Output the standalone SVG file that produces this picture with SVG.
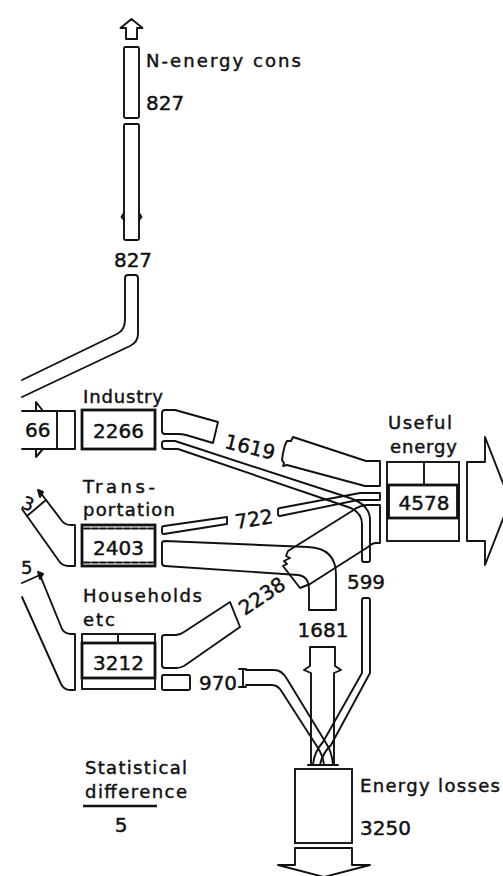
<svg xmlns="http://www.w3.org/2000/svg" width="503" height="876" viewBox="0 0 503 876">
<style>
.l{fill:none;stroke:#111;stroke-width:1.9;stroke-linejoin:round;stroke-linecap:round}
.b{fill:none;stroke:#111;stroke-width:2.8}
.m{fill:none;stroke:#111;stroke-width:1.9}
.t{font-family:"DejaVu Sans",sans-serif;font-size:18px;fill:#111;stroke:#111;stroke-width:0.45}
.n{font-size:20px}
</style>
<rect width="503" height="876" fill="#fff"/>
<g id="connectors" class="l">
  <path d="M126,39 V28 H120.5 L131.5,19 L142.5,28 H137 V39 Z"/>
  <rect x="124" y="47" width="15" height="71" rx="1.5"/>
  <rect x="124" y="124" width="15" height="116" rx="1.5"/>
  <path d="M124,213 L121.5,217 L124,220 M139,213 L141.5,217 L139,220"/>
  <path d="M22,380 L117,334 Q125,330 125,320 V278 Q125,275 128,275 H135 Q138,275 138,278 V334 Q138,342 130,346 L22,397"/>
  <path d="M22,411 H75 V449 H22 M57,411 V449"/>
  <path d="M36,411 V402 L43,411 M36,449 V457 L43,449"/>
  <path d="M40,492 L62,521 Q65,525 71,525 H75 V566 H69 Q62,566 59,561 L22,509"/>
  <path d="M27,516 L46,500"/>
  <path d="M38,490 L43,492 L40,497 Z" fill="#111"/>
  <path d="M40,575 L62,629 Q65,634 71,634 H75 V690 H70 Q64,690 61,684 L22,597"/>
  <path d="M22,583 L40,575"/>
  <path d="M38,572 L43,574 L40,579 Z" fill="#111"/>
  <path d="M162,413 Q162,410 165,410 H175 L218,422 L213,443 L186,435 Q182,434 178,434 H165 Q162,434 162,431 Z"/>
  <path d="M380,461 H366 L293,437 L291,441 L287,441 L285,445 L283,453 L282,460 L284,463 L283,466 L287,465 L365,486 H380 Z"/>
  <path d="M162,443 Q162,441 165,441 H175 L350,498 Q370,505 370,520 V560 Q370,562 368,562 H364 Q362,562 362,560 V524 Q362,512 348,507 L178,449 H165 Q162,449 162,446 Z"/>
  <path d="M362,600 Q362,598 364,598 H368 Q370,598 370,600 V673 L331,745 Q322,754 320,765 M362,600 V673 L323,742 Q314,752 313,765"/>
  <path d="M162,528 Q162,526 164,526 L227,517 V524 L164,534 Q162,534 162,532 Z"/>
  <path d="M278,510 Q278,508 280,508 L360,493 H380 V500 H358 L280,516 Q278,516 278,514 Z"/>
  <path d="M162,543 Q162,541 165,541 L308,547 Q336,548 336,575 V610 H309 V590 Q309,576 298,575 L165,566 Q162,566 162,563 Z"/>
  <path d="M380,505 H368 Q360,505 352,511 L288,551 L286,556 L290,558 L284,561 L287,564 L283,566 L300,588 L310,584 L368,547 Q372,543 376,543 H380 Z"/>
  <path d="M162,637 Q162,635 165,635 H176 Q180,635 184,632 L230,602 L240,627 L184,666 Q180,668 176,668 H165 Q162,668 162,665 Z"/>
  <rect x="162" y="675" width="28" height="15" rx="1.5"/>
  <path d="M239,669 H246 M243,669 V687 M239,687 H246"/>
  <path d="M246,670 H274 Q282,670 287,679 L326,743 Q332,752 333,765 M246,685 H272 Q278,685 282,692 L318,748 Q323,756 324,765"/>
  <path d="M310,647 H335 V666 L341,670 L334,673 V765 M310,647 V666 L304,670 L311,673 V765"/>
  <path d="M308,765 H338"/>
  <path d="M295,848 H352 V865 H370 L324,877 L278,865 H295 Z"/>
</g>
<g id="n-energy">
  <text class="t" x="146" y="67" textLength="155" lengthAdjust="spacing">N-energy cons</text>
  <text class="t n" x="146" y="110">827</text>
  <text class="t n" x="133" y="267" text-anchor="middle">827</text>
</g>
<g id="industry">
  <text class="t" x="83" y="403" textLength="80" lengthAdjust="spacing">Industry</text>
  <rect class="b" x="82" y="410" width="73" height="39"/>
  <text class="t n" x="118.5" y="438" text-anchor="middle">2266</text>
  <text class="t n" x="25" y="437">66</text>
</g>
<g id="transportation">
  <text class="t" x="83" y="493" textLength="72" lengthAdjust="spacing">Trans-</text>
  <text class="t" x="83" y="516" textLength="92" lengthAdjust="spacing">portation</text>
  <rect class="b" x="82" y="525" width="73" height="41"/>
  <path class="l" d="M84,528.5 H153 M84,562.5 H153" stroke-dasharray="6 2"/>
  <text class="t n" x="118.5" y="555" text-anchor="middle">2403</text>
  <text class="t" x="23" y="510" transform="rotate(20 28 502)">3</text>
</g>
<g id="households">
  <text class="t" x="83" y="602" textLength="119" lengthAdjust="spacing">Households</text>
  <text class="t" x="83" y="626" textLength="32" lengthAdjust="spacing">etc</text>
  <rect class="m" x="82" y="634" width="73" height="55"/>
  <rect class="b" x="82" y="643" width="73" height="35"/>
  <path class="m" d="M118,634 V643"/>
  <text class="t n" x="118.5" y="670" text-anchor="middle">3212</text>
  <text class="t" x="21" y="574" font-size="13">5</text>
</g>
<g id="useful">
  <text class="t" x="388" y="429" textLength="64" lengthAdjust="spacing">Useful</text>
  <text class="t" x="390" y="453" textLength="67" lengthAdjust="spacing">energy</text>
  <rect class="m" x="387" y="462" width="72" height="79"/>
  <path class="m" d="M424,462 V485"/>
  <rect class="b" x="388.5" y="485" width="69" height="33"/>
  <text class="t n" x="424" y="510" text-anchor="middle">4578</text>
  <path class="l" d="M467,462 H485 V437 L510,501 L485,565 V541 H467 Z"/>
</g>
<g id="flow-labels">
  <text class="t n" x="250" y="454" text-anchor="middle" transform="rotate(14 250 447)">1619</text>
  <text class="t n" x="254" y="526" text-anchor="middle" transform="rotate(-9 254 519)">722</text>
  <text class="t n" x="262" y="603" text-anchor="middle" transform="rotate(-34 262 596)">2238</text>
  <text class="t n" x="366" y="589" text-anchor="middle">599</text>
  <text class="t n" x="323" y="637" text-anchor="middle">1681</text>
  <text class="t n" x="218" y="690" text-anchor="middle">970</text>
</g>
<g id="losses">
  <rect class="m" x="295" y="769" width="57" height="74"/>
  <text class="t" x="360" y="792" textLength="140" lengthAdjust="spacing">Energy losses</text>
  <text class="t n" x="360" y="835">3250</text>
</g>
<g id="statdiff">
  <text class="t" x="85" y="774" textLength="102" lengthAdjust="spacing">Statistical</text>
  <text class="t" x="85" y="798" textLength="102" lengthAdjust="spacing">difference</text>
  <path d="M83,806 H157" stroke="#111" stroke-width="2.5"/>
  <text class="t n" x="121" y="832" text-anchor="middle">5</text>
</g>
</svg>
